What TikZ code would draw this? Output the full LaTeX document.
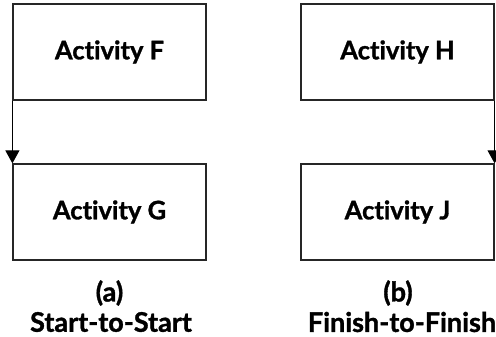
\documentclass[tikz,border=0pt]{standalone}
\usepackage{fontspec}
\setmainfont{Lato}[Ligatures=NoCommon, BoldFeatures={FakeBold=1.2}]
\usetikzlibrary{arrows.meta}
\begin{document}
\begin{tikzpicture}[x=1pt,y=-1pt,
  actbox/.style={draw=black!85, line width=1.2pt, minimum width=193pt, minimum height=96pt, inner sep=0pt, font=\fontsize{25.5}{28}\selectfont\bfseries},
  lbl/.style={font=\fontsize{27}{29}\selectfont\bfseries, inner sep=0pt},
  lnk/.style={draw=black, line width=1pt, -{Triangle[length=13pt,width=14pt]}}]
\useasboundingbox (0,0) rectangle (496,337);
\node[actbox] (F) at (109.5,52) {Activity F};
\node[actbox] (G) at (109.5,212) {Activity G};
\node[actbox] (H) at (397.5,52) {Activity H};
\node[actbox] (J) at (397.5,212) {Activity J};
\draw[lnk] (F.south west) -- (G.north west);
\draw[lnk] (H.south east) -- (J.north east);
\node[lbl] (la) at (109.5,293) {(a)};
\node[lbl] (sa) at (111,322) {Start-to-Start};
\node[lbl] (lb) at (398,293) {(b)};
\node[lbl] (sb) at (402,322) {Finish-to-Finish};
\end{tikzpicture}
\end{document}
